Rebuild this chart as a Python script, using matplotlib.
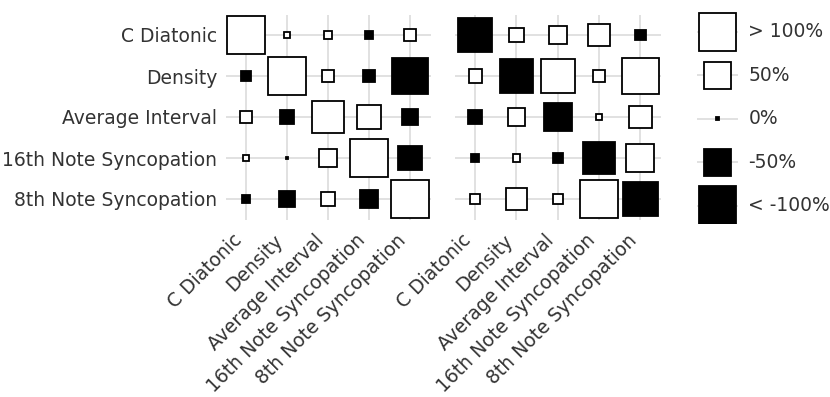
import numpy as np
import matplotlib
matplotlib.use("Agg")
import matplotlib.pyplot as plt
from matplotlib.patches import Rectangle
import matplotlib.transforms as mtransforms

features = ["C Diatonic", "Density", "Average Interval",
            "16th Note Syncopation", "8th Note Syncopation"]

left_values = [
    [1.00, 0.02, 0.05, -0.035, 0.11],
    [-0.07, 1.00, 0.09, -0.10, -0.88],
    [0.11, -0.15, 0.72, 0.42, -0.19],
    [0.03, -0.005, 0.25, 1.00, -0.38],
    [-0.05, -0.20, 0.14, -0.21, 1.00],
]
right_values = [
    [-0.83, 0.145, 0.23, 0.31, -0.085],
    [0.12, -0.77, 0.80, 0.10, 0.96],
    [-0.125, 0.21, -0.54, 0.025, 0.35],
    [-0.045, 0.04, -0.075, -0.74, 0.55],
    [0.06, 0.31, 0.07, 1.00, -0.85],
]
legend_values = [1.0, 0.5, 0.0, -0.5, -1.0]
legend_labels = ["> 100%", "50%", "0%", "-50%", "< -100%"]

W, H = 830, 397
fig = plt.figure(figsize=(W / 100, H / 100), dpi=100)
TXT = "#333333"
GRID = "#d9d9d9"
FS = 13.5
FULL = 0.92


def side(v):
    s = np.sqrt(min(abs(v), 1.0)) * FULL
    return max(s, 0.07)


def draw_square(ax, x, y, v):
    s = side(v)
    if v < 0 or abs(v) < 0.003:
        fc, ec = "black", "black"
    else:
        fc, ec = "white", "black"
    ax.add_patch(Rectangle((x - s / 2, y - s / 2), s, s, facecolor=fc,
                           edgecolor=ec, linewidth=1.3, zorder=3))


def panel(rect, values, show_y):
    ax = fig.add_axes(rect)
    n = len(features)
    ax.set_xlim(-0.5, n - 0.5)
    ax.set_ylim(n - 0.5, -0.5)
    for i in range(n):
        ax.axhline(i, color=GRID, lw=1.1, zorder=1)
        ax.axvline(i, color=GRID, lw=1.1, zorder=1)
    for r, row in enumerate(values):
        for c, v in enumerate(row):
            draw_square(ax, c, r, v)
    ax.set_xticks(range(n))
    ax.set_xticklabels(features, rotation=45, ha="right", va="top",
                       fontsize=FS, color=TXT)
    offset = mtransforms.ScaledTranslation(-3 / 100, 0, fig.dpi_scale_trans)
    for lab in ax.get_xticklabels():
        lab.set_transform(lab.get_transform() + offset)
    ax.set_yticks(range(n))
    if show_y:
        ax.set_yticklabels(features, fontsize=FS, color=TXT)
    else:
        ax.set_yticklabels([])
    ax.tick_params(length=0)
    ax.tick_params(axis="y", pad=6)
    ax.tick_params(axis="x", pad=8)
    for s in ax.spines.values():
        s.set_visible(False)
    return ax


def fx(px):
    return px / W


def fy(py):
    return 1 - py / H


cell = 41.0
top, bottom = 14.5, 14.5 + 5 * cell
panel([fx(225.5), fy(bottom), fx(5 * cell), (bottom - top) / H], left_values, True)
panel([fx(454.5), fy(bottom), fx(5 * 41.3), (bottom - top) / H], right_values, False)

# legend
lax = fig.add_axes([fx(697), fy(224), fx(41), 213 / H])
lax.set_xlim(-0.5, 0.5)
lax.set_ylim(len(legend_values) - 0.5 + 0.1, -0.5 + 0.0)
lax.axis("off")
for i, (v, lab) in enumerate(zip(legend_values, legend_labels)):
    y = i * 1.04
    lax.plot([-0.5, 0.5], [y, y], color=GRID, lw=1.1, zorder=1)
    draw_square(lax, 0, y, v)
    lax.text(0.75, y, lab, fontsize=FS, color=TXT, ha="left", va="center")

fig.savefig("out.png", dpi=100)
